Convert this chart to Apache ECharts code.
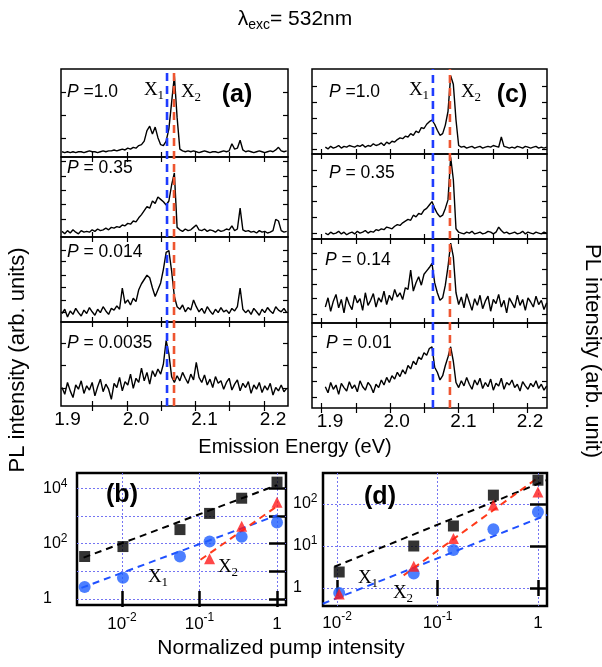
<!DOCTYPE html>
<html><head><meta charset="utf-8">
<script src="https://cdn.jsdelivr.net/npm/echarts@6/dist/echarts.min.js"></script>
<style>html,body{margin:0;padding:0;background:#fff}#c{width:602px;height:667px}</style>
</head><body><div id="c"></div>
<script>
// ---------------- DATA ----------------
const energyLeft = [1.892,1.896,1.900,1.904,1.908,1.912,1.916,1.920,1.924,1.928,
1.932,1.936,1.940,1.944,1.948,1.952,1.956,1.960,1.964,1.968,
1.972,1.976,1.980,1.984,1.988,1.992,1.996,2.000,2.004,2.008,
2.012,2.016,2.020,2.024,2.028,2.032,2.036,2.040,2.044,2.048,
2.052,2.056,2.060,2.064,2.068,2.072,2.076,2.080,2.084,2.088,
2.092,2.096,2.100,2.104,2.108,2.112,2.116,2.120,2.124,2.128,
2.132,2.136,2.140,2.144,2.148,2.152,2.156,2.160,2.164,2.168,
2.172,2.176,2.180,2.184,2.188,2.192,2.196,2.200,2.204,2.208,
2.212,2.216,2.220];
const energyRight = [1.893,1.897,1.901,1.905,1.909,1.913,1.917,1.921,1.925,1.929,
1.933,1.937,1.941,1.945,1.949,1.953,1.957,1.961,1.965,1.969,
1.973,1.977,1.981,1.985,1.989,1.993,1.997,2.001,2.005,2.009,
2.013,2.017,2.021,2.025,2.029,2.033,2.037,2.041,2.045,2.049,
2.053,2.057,2.061,2.065,2.069,2.073,2.077,2.081,2.085,2.089,
2.093,2.097,2.101,2.105,2.109,2.113,2.117,2.121,2.125,2.129,
2.133,2.137,2.141,2.145,2.149,2.153,2.157,2.161,2.165,2.169,
2.173,2.177,2.181,2.185,2.189,2.193,2.197,2.201,2.205,2.209,
2.213,2.217,2.221,2.225];

// (a) spectra, normalized intensity
const specA_P1 = [0.06,0.05,0.06,0.05,0.06,0.05,0.06,0.06,0.05,0.06,
0.07,0.06,0.06,0.05,0.06,0.07,0.06,0.07,0.07,0.08,
0.07,0.08,0.09,0.08,0.10,0.09,0.11,0.10,0.13,0.14,
0.18,0.30,0.35,0.26,0.34,0.22,0.14,0.13,0.18,0.32,
0.62,0.92,0.45,0.09,0.07,0.06,0.07,0.06,0.07,0.06,
0.05,0.06,0.07,0.06,0.05,0.06,0.06,0.05,0.06,0.07,
0.06,0.07,0.15,0.09,0.10,0.19,0.08,0.06,0.07,0.06,
0.05,0.06,0.07,0.06,0.05,0.06,0.07,0.06,0.08,0.11,
0.07,0.06,0.07];
const specA_P035 = [0.07,0.04,0.08,0.05,0.09,0.06,0.04,0.08,0.06,0.07,
0.06,0.09,0.07,0.10,0.08,0.09,0.11,0.09,0.12,0.11,
0.13,0.12,0.15,0.14,0.17,0.16,0.20,0.19,0.24,0.28,
0.33,0.38,0.36,0.45,0.42,0.50,0.47,0.44,0.40,0.45,
0.65,0.80,0.12,0.09,0.07,0.10,0.08,0.09,0.12,0.15,
0.09,0.08,0.10,0.07,0.09,0.08,0.06,0.09,0.07,0.08,
0.10,0.09,0.14,0.08,0.10,0.36,0.09,0.07,0.08,0.06,
0.07,0.05,0.08,0.06,0.07,0.05,0.06,0.08,0.22,0.20,
0.08,0.06,0.07];
const specA_P0014 = [0.10,0.15,0.06,0.13,0.09,0.16,0.11,0.07,0.14,0.10,
0.17,0.12,0.08,0.15,0.11,0.18,0.13,0.09,0.16,0.14,
0.19,0.15,0.40,0.22,0.26,0.20,0.28,0.24,0.38,0.45,
0.50,0.55,0.52,0.40,0.30,0.38,0.46,0.62,0.82,0.84,
0.60,0.30,0.18,0.15,0.20,0.12,0.17,0.14,0.26,0.18,
0.12,0.16,0.10,0.18,0.13,0.09,0.15,0.11,0.17,0.12,
0.14,0.10,0.16,0.13,0.18,0.40,0.15,0.11,0.14,0.09,
0.16,0.12,0.08,0.15,0.11,0.17,0.13,0.10,0.18,0.14,
0.12,0.16,0.11];
const specA_P00035 = [0.22,0.14,0.28,0.18,0.10,0.25,0.20,0.30,0.15,0.24,
0.19,0.28,0.12,0.23,0.32,0.17,0.26,0.20,0.08,0.27,
0.22,0.34,0.18,0.29,0.25,0.38,0.21,0.33,0.28,0.45,
0.30,0.40,0.26,0.42,0.35,0.44,0.38,0.50,0.78,0.62,
0.35,0.28,0.36,0.30,0.40,0.33,0.27,0.38,0.31,0.52,
0.34,0.28,0.37,0.25,0.32,0.22,0.35,0.27,0.30,0.20,
0.28,0.33,0.19,0.26,0.31,0.18,0.27,0.22,0.29,0.15,
0.25,0.20,0.28,0.16,0.24,0.19,0.27,0.13,0.22,0.18,
0.25,0.17,0.21];

// (c) spectra, normalized intensity
const specC_P1 = [0.08,0.06,0.09,0.07,0.08,0.10,0.07,0.09,0.08,0.10,
0.09,0.08,0.10,0.09,0.11,0.08,0.10,0.09,0.12,0.10,
0.11,0.13,0.10,0.14,0.12,0.15,0.14,0.17,0.19,0.18,
0.21,0.20,0.24,0.22,0.27,0.25,0.31,0.30,0.35,0.38,
0.40,0.35,0.28,0.22,0.24,0.34,0.50,0.92,0.82,0.40,
0.10,0.08,0.09,0.07,0.08,0.09,0.07,0.08,0.09,0.07,
0.08,0.09,0.08,0.10,0.09,0.08,0.20,0.09,0.08,0.07,
0.08,0.07,0.09,0.08,0.07,0.09,0.08,0.07,0.08,0.09,
0.07,0.08,0.07,0.08];
const specC_P035 = [0.07,0.05,0.08,0.06,0.07,0.09,0.06,0.08,0.05,0.07,
0.08,0.06,0.09,0.07,0.08,0.10,0.07,0.09,0.08,0.11,
0.10,0.12,0.11,0.14,0.13,0.12,0.15,0.17,0.16,0.19,
0.21,0.23,0.22,0.28,0.26,0.30,0.29,0.34,0.36,0.40,
0.44,0.36,0.30,0.26,0.28,0.36,0.46,0.96,0.70,0.12,
0.08,0.07,0.06,0.08,0.07,0.09,0.06,0.07,0.08,0.06,
0.07,0.09,0.08,0.06,0.08,0.14,0.10,0.07,0.08,0.06,
0.07,0.08,0.06,0.07,0.09,0.06,0.08,0.07,0.06,0.08,
0.07,0.06,0.08,0.07];
const specC_P014 = [0.19,0.30,0.14,0.26,0.34,0.18,0.28,0.12,0.31,0.22,
0.16,0.33,0.24,0.29,0.15,0.36,0.21,0.27,0.35,0.19,
0.30,0.25,0.38,0.22,0.33,0.27,0.40,0.31,0.36,0.28,
0.42,0.40,0.63,0.38,0.48,0.55,0.45,0.58,0.62,0.66,
0.71,0.48,0.36,0.27,0.30,0.45,0.67,0.95,0.79,0.36,
0.22,0.31,0.18,0.35,0.25,0.15,0.29,0.21,0.33,0.17,
0.26,0.32,0.14,0.28,0.23,0.34,0.19,0.27,0.12,0.30,
0.24,0.18,0.33,0.21,0.28,0.15,0.30,0.25,0.19,0.32,
0.22,0.27,0.16,0.24];
const specC_P001 = [0.25,0.18,0.30,0.22,0.27,0.16,0.29,0.24,0.20,0.31,
0.23,0.27,0.19,0.32,0.25,0.21,0.30,0.26,0.18,0.28,
0.24,0.33,0.27,0.36,0.30,0.38,0.34,0.42,0.37,0.45,
0.40,0.50,0.46,0.55,0.51,0.60,0.57,0.65,0.62,0.70,
0.72,0.48,0.42,0.33,0.38,0.50,0.60,0.72,0.55,0.30,
0.24,0.32,0.26,0.36,0.28,0.22,0.33,0.27,0.35,0.23,
0.30,0.25,0.34,0.21,0.29,0.26,0.35,0.22,0.30,0.27,
0.33,0.24,0.28,0.20,0.31,0.26,0.22,0.29,0.25,0.32,
0.23,0.28,0.21,0.26];

// peak energies (dashed lines)
const peaksLeft = [2.0453, 2.0555];   // X1, X2
const peaksRight = [2.0544, 2.0799];  // X1, X2
const panelLabelsLeft = ['1.0', '0.35', '0.014', '0.0035'];
const panelLabelsRight = ['1.0', '0.35', '0.14', '0.01'];
const energyTickLabels = [1.9, 2.0, 2.1, 2.2];

// (b) power dependence
const pumpB = [0.0033, 0.0103, 0.056, 0.135, 0.35, 1.0];
const bTotal = [34, 78, 320, 1230, 4350, 16600];
const bX1 = [2.7, 5.8, 34, 118, 178, 580];
const pumpB_X2 = [0.135, 0.35, 1.0];
const bX2 = [28, 420, 3100];
const fitB_total = [[0.0032, 31], [1.0, 12900]];
const fitB_X1 = [[0.0030, 2.5], [1.0, 1050]];
const fitB_X2 = [[0.103, 26], [1.0, 2230]];

// (d) power dependence
const pumpD = [0.0105, 0.058, 0.144, 0.36, 1.0];
const dTotal = [2.4, 10, 30, 163, 370];
const dX1 = [0.76, 2.2, 8, 25, 65];
const dX2 = [0.72, 3.3, 15, 95, 195];
const fitD_total = [[0.0094, 3.2], [1.45, 437]];
const fitD_X1 = [[0.0072, 0.42], [1.23, 55]];
const fitD_X2 = [[0.046, 2.0], [1.0, 425]];

// ---------------- BUILD ----------------
const FONT = "'Liberation Sans', Arial, sans-serif";
const SERIF = "'Liberation Serif', 'Times New Roman', serif";
const BLUE_LINE = '#1f3cff';
const RED_LINE = '#ee5530';
const grids = [], xAxes = [], yAxes = [], series = [], elements = [];
const L = v => Math.log10(v);

function addSpectrum(rect, energies, vals, xr, tickVals, showLabels, yTicks) {
  const gi = grids.length;
  grids.push({left: rect[0], top: rect[1], width: rect[2], height: rect[3], show: true,
    borderColor: '#000', borderWidth: 1.5, backgroundColor: 'transparent'});
  const tick = cv => ({show: true, inside: true, length: 5, customValues: cv, lineStyle: {color: '#000', width: 1.2}});
  const xi = xAxes.length;
  xAxes.push({type: 'value', gridIndex: gi, position: 'bottom', min: xr[0], max: xr[1],
    axisLine: {show: false}, splitLine: {show: false}, axisTick: tick(tickVals),
    axisLabel: showLabels ? {show: true, customValues: energyTickLabels, formatter: v => Number(v).toFixed(1),
      fontSize: 19, fontFamily: FONT, color: '#000', margin: 4} : {show: false}});
  xAxes.push({type: 'value', gridIndex: gi, position: 'top', min: xr[0], max: xr[1],
    axisLine: {show: false}, splitLine: {show: false}, axisTick: tick(tickVals), axisLabel: {show: false}});
  const yi = yAxes.length;
  yAxes.push({type: 'value', gridIndex: gi, position: 'left', min: 0, max: 1,
    axisLine: {show: false}, splitLine: {show: false}, axisTick: tick(yTicks), axisLabel: {show: false}});
  yAxes.push({type: 'value', gridIndex: gi, position: 'right', min: 0, max: 1,
    axisLine: {show: false}, splitLine: {show: false}, axisTick: tick(yTicks), axisLabel: {show: false}});
  series.push({type: 'line', xAxisIndex: xi, yAxisIndex: yi, data: energies.map((e, i) => [e, vals[i]]),
    symbol: 'none', lineStyle: {color: '#000', width: 1.4}, silent: true, z: 2});
}

function addOverlay(rect, xr, peaks) {
  const gi = grids.length;
  grids.push({left: rect[0], top: rect[1], width: rect[2], height: rect[3], show: false});
  const xi = xAxes.length;
  xAxes.push({type: 'value', gridIndex: gi, min: xr[0], max: xr[1], show: false});
  const yi = yAxes.length;
  yAxes.push({type: 'value', gridIndex: gi, min: 0, max: 1, show: false});
  const cols = [BLUE_LINE, RED_LINE];
  peaks.forEach((p, k) => {
    series.push({type: 'line', xAxisIndex: xi, yAxisIndex: yi, data: [[p, 0], [p, 1]], symbol: 'none',
      lineStyle: {color: cols[k], width: 2.6, type: [8, 5]}, silent: true, z: 5});
  });
}

function pow10(v) {
  const k = Math.round(v);
  if (k === 0) return '{b|1}';
  return '{b|10}{s|' + (k < 0 ? '-' + (-k) : k) + '}';
}

function addLogPanel(rect, xr, yr, yTicks, yLabelVals, yMargin, xMargin, xFs, yFs) {
  const gi = grids.length;
  grids.push({left: rect[0], top: rect[1], width: rect[2], height: rect[3], show: true,
    borderColor: '#000', borderWidth: 2.5, backgroundColor: 'transparent'});
  const split = {show: true, lineStyle: {color: '#7474f2', type: [2, 2], width: 1}};
  const tick = cv => ({show: true, inside: true, length: 8, customValues: cv, lineStyle: {color: '#000', width: 2.5}});
  const richX = {b: {fontSize: xFs, lineHeight: 24, fontFamily: FONT, color: '#000'},
                 s: {fontSize: 12, lineHeight: 14, verticalAlign: 'top', fontFamily: FONT, color: '#000'}};
  const richY = {b: {fontSize: yFs, lineHeight: 22, fontFamily: FONT, color: '#000'},
                 s: {fontSize: 12, lineHeight: 14, verticalAlign: 'top', fontFamily: FONT, color: '#000'}};
  const xi = xAxes.length;
  xAxes.push({type: 'value', gridIndex: gi, position: 'bottom', min: xr[0], max: xr[1],
    axisLine: {show: false}, splitLine: split, axisTick: tick([-2, -1, 0]),
    axisLabel: {show: true, customValues: [-2, -1, 0], formatter: pow10, rich: richX, margin: xMargin}});
  xAxes.push({type: 'value', gridIndex: gi, position: 'top', min: xr[0], max: xr[1],
    axisLine: {show: false}, splitLine: {show: false}, axisTick: tick([-2, -1, 0]), axisLabel: {show: false}});
  const yi = yAxes.length;
  yAxes.push({type: 'value', gridIndex: gi, position: 'left', min: yr[0], max: yr[1],
    axisLine: {show: false}, splitLine: split, axisTick: tick(yTicks),
    axisLabel: {show: true, customValues: yLabelVals, formatter: pow10, rich: richY, margin: yMargin, align: 'left'}});
  yAxes.push({type: 'value', gridIndex: gi, position: 'right', min: yr[0], max: yr[1],
    axisLine: {show: false}, splitLine: {show: false}, axisTick: tick(yTicks), axisLabel: {show: false}});
  return [xi, yi];
}

function scatter(ax, xs, ys, symbol, color, size) {
  series.push({type: 'scatter', xAxisIndex: ax[0], yAxisIndex: ax[1], symbol: symbol, symbolSize: size,
    itemStyle: {color: color}, data: xs.map((x, i) => [L(x), L(ys[i])]), silent: true, z: 4});
}
function fit(ax, pts, color) {
  series.push({type: 'line', xAxisIndex: ax[0], yAxisIndex: ax[1], symbol: 'none', clip: false,
    lineStyle: {color: color, width: 2, type: [7, 5]}, data: pts.map(p => [L(p[0]), L(p[1])]), silent: true, z: 3});
}

// spectra
const xrL = [1.8905, 2.2219], xrR = [1.873, 2.2255];
const ticksL = [1.9365, 1.9865, 2.0365, 2.0865, 2.1365, 2.1865];
const ticksR = [1.887, 1.939, 1.990, 2.042, 2.093, 2.145, 2.196];
const leftRects = [[61, 69, 227, 88], [61, 157, 227, 80], [61, 237, 227, 85], [61, 322, 227, 84]];
const rightRects = [[312, 69, 235, 85], [312, 154, 235, 85], [312, 239, 235, 84], [312, 323, 235, 85]];
const leftYT = [[0.216, 0.477, 0.739], [0.225, 0.405, 0.585, 0.765, 0.945], [0.11, 0.26, 0.41, 0.55, 0.71, 0.85], [0.21, 0.48, 0.75]];
const rightYT = [[0.06, 0.25, 0.42, 0.61, 0.8], [0.07, 0.26, 0.44, 0.62, 0.81], [0.1, 0.29, 0.46, 0.64, 0.83], [0.13, 0.31, 0.48, 0.66, 0.84]];
const leftSpecs = [specA_P1, specA_P035, specA_P0014, specA_P00035];
const rightSpecs = [specC_P1, specC_P035, specC_P014, specC_P001];
leftSpecs.forEach((s, i) => addSpectrum(leftRects[i], energyLeft, s, xrL, ticksL, i === 3, leftYT[i]));
rightSpecs.forEach((s, i) => addSpectrum(rightRects[i], energyRight, s, xrR, ticksR, i === 3, rightYT[i]));
addOverlay([61, 69, 227, 337], xrL, peaksLeft);
addOverlay([312, 69, 235, 339], xrR, peaksRight);

// (b)
const axB = addLogPanel([77, 473, 209, 132], [-2.58, 0.116], [-0.22, 4.55], [0, 1, 2, 3, 4], [0, 2, 4], 34, 7, 17, 16);
fit(axB, fitB_total, '#000');
fit(axB, fitB_X1, '#1f50ff');
fit(axB, fitB_X2, '#ff3a1a');
scatter(axB, pumpB, bTotal, 'rect', '#000', 11);
scatter(axB, pumpB, bX1, 'circle', '#1f5fff', 12);
scatter(axB, pumpB_X2, bX2, 'triangle', '#ff1a1a', 11);

// (d)
const axD = addLogPanel([323, 473, 224, 133], [-2.14, 0.09], [-0.43, 2.74], [0, 1, 2], [0, 1, 2], 30, 5, 17, 16);
fit(axD, fitD_total, '#000');
fit(axD, fitD_X1, '#1f50ff');
fit(axD, fitD_X2, '#ff3a1a');
scatter(axD, pumpD, dTotal, 'rect', '#000', 11);
scatter(axD, pumpD, dX1, 'circle', '#1f5fff', 12);
scatter(axD, pumpD, dX2, 'triangle', '#ff1a1a', 11);

// ---------------- TEXT ----------------
function text(x, y, str, rich, opt) {
  opt = opt || {};
  elements.push({type: 'text', x: x, y: y, rotation: opt.rotation || 0, z: 100, silent: true,
    style: {text: str, rich: rich || {}, fill: '#000', fontSize: opt.fontSize || 20,
      fontFamily: opt.fontFamily || FONT, fontWeight: opt.fontWeight || 'normal',
      align: opt.align || 'center', verticalAlign: 'middle'}});
}
const richP = {i: {fontStyle: 'italic', fontSize: 17.5, fontFamily: FONT, lineHeight: 22},
               n: {fontSize: 17.5, fontFamily: FONT, lineHeight: 22}};
const richX = {x: {fontSize: 19, fontFamily: SERIF, lineHeight: 24},
               s: {fontSize: 13, fontFamily: SERIF, lineHeight: 14, verticalAlign: 'bottom'}};
function pLabel(v) { return '{i|P}{n|' + (v === '1.0' ? ' =' : ' = ') + v + '}'; }

text(295, 19, '{l|λ}{s|exc}{n|= 532nm}', {
  l: {fontSize: 21, fontFamily: FONT, lineHeight: 26},
  s: {fontSize: 14, fontFamily: FONT, lineHeight: 14, verticalAlign: 'bottom'},
  n: {fontSize: 21, fontFamily: FONT, lineHeight: 26}});

const pyL = [92, 168, 252, 343], pyR = [92, 173, 260, 343], pxR = [329, 329, 325, 326];
panelLabelsLeft.forEach((v, i) => text(67, pyL[i], pLabel(v), richP, {align: 'left'}));
panelLabelsRight.forEach((v, i) => text(pxR[i], pyR[i], pLabel(v), richP, {align: 'left'}));

text(154, 90, '{x|X}{s|1}', richX);
text(191, 92, '{x|X}{s|2}', richX);
text(419, 90, '{x|X}{s|1}', richX);
text(471, 92, '{x|X}{s|2}', richX);
text(158, 577, '{x|X}{s|1}', richX);
text(228, 567, '{x|X}{s|2}', richX);
text(368, 578, '{x|X}{s|1}', richX);
text(403, 593, '{x|X}{s|2}', richX);

text(237, 95, '(a)', null, {fontSize: 25, fontWeight: 'bold'});
text(512, 95, '(c)', null, {fontSize: 25, fontWeight: 'bold'});
text(122, 495, '(b)', null, {fontSize: 25, fontWeight: 'bold'});
text(380, 497, '(d)', null, {fontSize: 25, fontWeight: 'bold'});

text(295, 447, 'Emission Energy (eV)', null, {fontSize: 20});
text(281, 648, 'Normalized pump intensity', null, {fontSize: 21});
text(18, 360, 'PL intensity (arb. units)', null, {fontSize: 22, rotation: Math.PI / 2});
text(592, 351, 'PL intensity (arb. unit)', null, {fontSize: 22, rotation: -Math.PI / 2});

const chart = echarts.init(document.getElementById('c'), null, {renderer: 'canvas'});
chart.setOption({animation: false, backgroundColor: '#fff', grid: grids, xAxis: xAxes, yAxis: yAxes,
  series: series, graphic: {elements: elements}});
</script></body></html>
